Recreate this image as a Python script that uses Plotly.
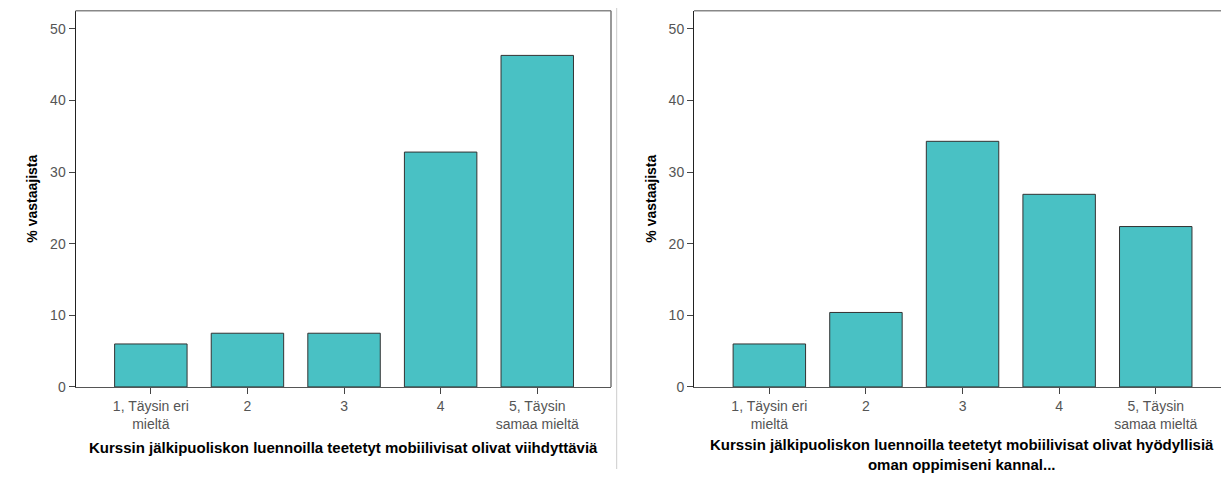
import plotly.graph_objects as go

# ---- data ----
categories = ["1, Täysin eri<br>mieltä", "2", "3", "4", "5, Täysin<br>samaa mieltä"]
values_viihdyttavia = [6.0, 7.5, 7.5, 32.8, 46.3]
values_hyodyllisia = [6.0, 10.4, 34.3, 26.9, 22.4]
y_ticks = [0, 10, 20, 30, 40, 50]
y_title = "% vastaajista"
x_title_left = "Kurssin jälkipuoliskon luennoilla teetetyt mobiilivisat olivat viihdyttäviä"
x_title_right = ("Kurssin jälkipuoliskon luennoilla teetetyt mobiilivisat olivat hyödyllisiä"
                 "<br>oman oppimiseni kannal...")

# The page body adds an 8px margin on every side; keep the figure inside the window
OFF = 8
W, H = 1229 - 2 * OFF, 485 - 2 * OFF
FONT = "Liberation Sans, Arial, sans-serif"
BAR_COLOR = "#49C1C4"
PX_PER_CAT = 96.6
X_START = -0.78

def px_x(p):
    return (p - OFF) / W

def px_y(p):
    return 1 - (p - OFF) / H

y_dom = [px_y(393.5), px_y(10.7)]
x1_px = (75.5, 611.0)
x2_px = (694.0, OFF + W)
x1_dom = [px_x(x1_px[0]), px_x(x1_px[1])]
x2_dom = [px_x(x2_px[0]), 1.0]
x1_range = [X_START, X_START + (x1_px[1] - x1_px[0]) / PX_PER_CAT]
x2_range = [X_START, X_START + (x2_px[1] - x2_px[0]) / PX_PER_CAT]

fig = go.Figure()
fig.add_trace(go.Bar(x=categories, y=values_viihdyttavia, xaxis="x", yaxis="y",
                     marker=dict(color=BAR_COLOR, line=dict(color="#333333", width=1)),
                     width=0.75, showlegend=False, hoverinfo="skip"))
fig.add_trace(go.Bar(x=categories, y=values_hyodyllisia, xaxis="x2", yaxis="y2",
                     marker=dict(color=BAR_COLOR, line=dict(color="#333333", width=1)),
                     width=0.75, showlegend=False, hoverinfo="skip"))

xaxis_common = dict(type="category", showline=True, linecolor="#555555",
                    linewidth=1, ticks="outside", ticklen=6, tickcolor="#444444",
                    tickfont=dict(family=FONT, size=14, color="#555555"),
                    showgrid=False, zeroline=False, fixedrange=True)
yaxis_common = dict(range=[0, 52.55], tickvals=y_ticks, showline=True, linecolor="#222222",
                    linewidth=1, ticks="outside", ticklen=6, tickcolor="#444444",
                    tickfont=dict(family=FONT, size=14, color="#555555"),
                    showgrid=False, zeroline=False, fixedrange=True)

fig.update_layout(
    width=W, height=H,
    margin=dict(l=0, r=0, t=0, b=0),
    paper_bgcolor="white", plot_bgcolor="white",
    xaxis=dict(domain=x1_dom, anchor="y", range=x1_range, **xaxis_common),
    yaxis=dict(domain=y_dom, anchor="x", **yaxis_common),
    xaxis2=dict(domain=x2_dom, anchor="y2", range=x2_range, **xaxis_common),
    yaxis2=dict(domain=y_dom, anchor="x2", **yaxis_common),
    bargap=0.25,
)

shapes = [
    dict(type="line", xref="x domain", yref="y domain", x0=0, x1=1, y0=1, y1=1,
         line=dict(color="#888888", width=1.5)),
    dict(type="line", xref="x domain", yref="y domain", x0=1, x1=1, y0=0, y1=1,
         line=dict(color="#777777", width=1.5)),
    dict(type="line", xref="x2 domain", yref="y2 domain", x0=0, x1=1, y0=1, y1=1,
         line=dict(color="#888888", width=1.5)),
    # panel separator
    dict(type="line", xref="paper", yref="paper", x0=px_x(616.7), x1=px_x(616.7),
         y0=0, y1=1, line=dict(color="#CCCCCC", width=1)),
]
fig.update_layout(shapes=shapes)

annotations = [
    dict(text=y_title, textangle=-90, xref="paper", yref="paper", x=px_x(32), y=px_y(202),
         showarrow=False, xanchor="center", yanchor="middle",
         font=dict(family=FONT, size=14, color="#000000", weight="bold")),
    dict(text=y_title, textangle=-90, xref="paper", yref="paper", x=px_x(651), y=px_y(202),
         showarrow=False, xanchor="center", yanchor="middle",
         font=dict(family=FONT, size=14, color="#000000", weight="bold")),
    dict(text=x_title_left, xref="x domain", yref="paper", x=0.5, y=px_y(455),
         showarrow=False, xanchor="center", yanchor="middle",
         font=dict(family=FONT, size=15, color="#000000", weight="bold")),
    dict(text=x_title_right, xref="paper", yref="paper", x=px_x(962), y=px_y(462),
         showarrow=False, xanchor="center", yanchor="middle",
         font=dict(family=FONT, size=15, color="#000000", weight="bold")),
]
fig.update_layout(annotations=annotations)

fig.write_html("out.html")
